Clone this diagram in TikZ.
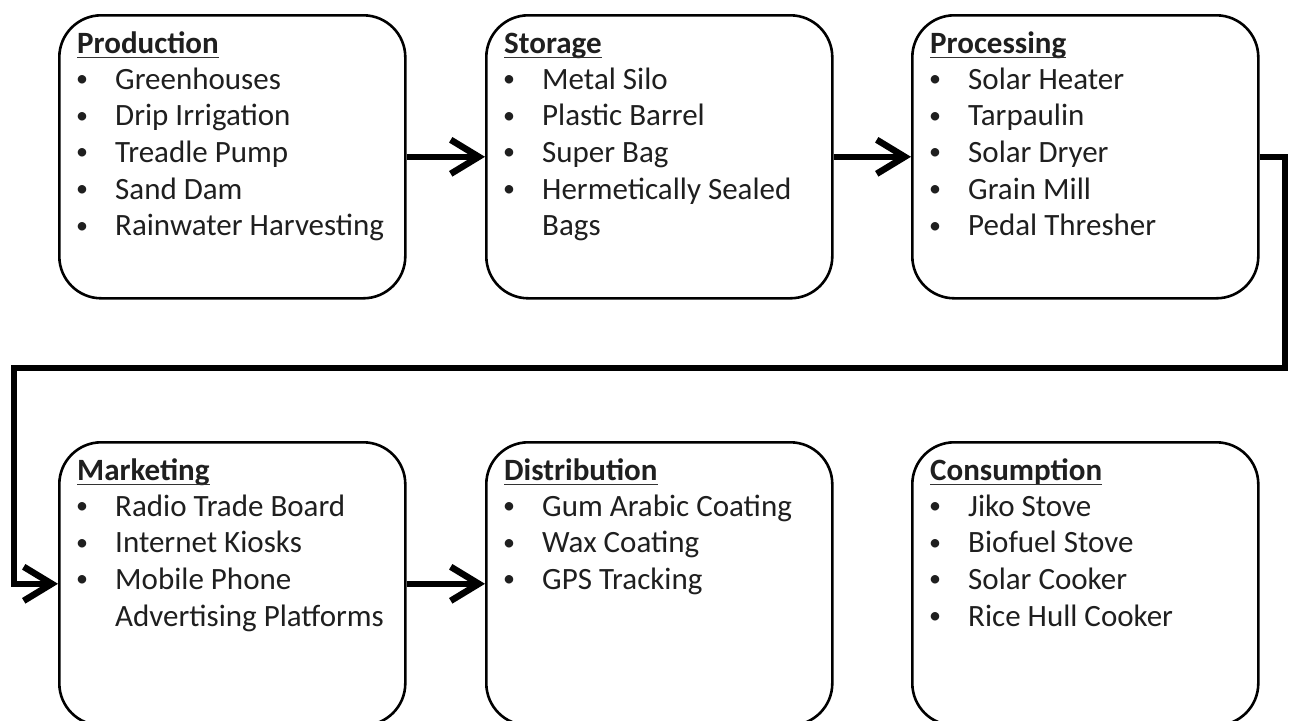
\documentclass[tikz,border=0pt]{standalone}
\usepackage{fontspec}
\setmainfont{Carlito}
\usetikzlibrary{arrows.meta}
\tikzset{
  stagebox/.style={draw=black, line width=2.6pt, rounded corners=42pt,
    minimum width=346pt, minimum height=283pt, anchor=north west, inner sep=0pt},
  ttlsty/.style={anchor=base west, inner sep=0pt, text=black!88,
    font=\fontsize{31}{36.7}\selectfont\bfseries},
  itmsty/.style={anchor=base west, inner sep=0pt, text=black!88,
    font=\fontsize{31}{36.7}\selectfont},
  bulsty/.style={anchor=base, inner sep=0pt, text=black!88,
    font=\fontsize{24}{30}\selectfont},
  uline/.style={line width=1.5pt, black!80},
  conn/.style={line width=5.5pt, -{Straight Barb[length=28pt,width=34pt,line width=6.5pt]}},
}
\newcommand\mkTitle[2]{%
  \node[ttlsty] (#1-t) at ([xshift=19pt,yshift=-39pt]#1.north west) {#2};
  \draw[uline] ([yshift=-4.5pt]#1-t.base west) -- ([yshift=-4.5pt]#1-t.base east);
}
\newcommand\mkItem[3]{%
  \node[bulsty] (#1-b#2) at ([xshift=24pt,yshift={-72.5pt-(#2-1)*36.7pt}]#1.north west) {•};
  \node[itmsty] (#1-i#2) at ([xshift=57pt,yshift={-75pt-(#2-1)*36.7pt}]#1.north west) {#3};
}
\newcommand\mkCont[3]{%
  \node[itmsty] (#1-i#2) at ([xshift=57pt,yshift={-75pt-(#2-1)*36.7pt}]#1.north west) {#3};
}
\begin{document}
\begin{tikzpicture}[x=1pt,y=-1pt]
\useasboundingbox (0,0) rectangle (1290,720);
\clip (0,0) rectangle (1290,720);
\fill[white] (0,0) rectangle (1290,720);

% boxes
\node[stagebox] (prod) at (58,14) {};
\node[stagebox] (stor) at (485,14) {};
\node[stagebox] (proc) at (911,14) {};
\node[stagebox] (mkt) at (58,441) {};
\node[stagebox] (dist) at (485,441) {};
\node[stagebox] (cons) at (911,441) {};

% texts
\mkTitle{prod}{Production}
\mkItem{prod}{1}{Greenhouses}
\mkItem{prod}{2}{Drip Irrigation}
\mkItem{prod}{3}{Treadle Pump}
\mkItem{prod}{4}{Sand Dam}
\mkItem{prod}{5}{Rainwater Harvesting}

\mkTitle{stor}{Storage}
\mkItem{stor}{1}{Metal Silo}
\mkItem{stor}{2}{Plastic Barrel}
\mkItem{stor}{3}{Super Bag}
\mkItem{stor}{4}{Hermetically Sealed}
\mkCont{stor}{5}{Bags}

\mkTitle{proc}{Processing}
\mkItem{proc}{1}{Solar Heater}
\mkItem{proc}{2}{Tarpaulin}
\mkItem{proc}{3}{Solar Dryer}
\mkItem{proc}{4}{Grain Mill}
\mkItem{proc}{5}{Pedal Thresher}

\mkTitle{mkt}{Marketing}
\mkItem{mkt}{1}{Radio Trade Board}
\mkItem{mkt}{2}{Internet Kiosks}
\mkItem{mkt}{3}{Mobile Phone}
\mkCont{mkt}{4}{Advertising Platforms}

\mkTitle{dist}{Distribution}
\mkItem{dist}{1}{Gum Arabic Coating}
\mkItem{dist}{2}{Wax Coating}
\mkItem{dist}{3}{GPS Tracking}

\mkTitle{cons}{Consumption}
\mkItem{cons}{1}{Jiko Stove}
\mkItem{cons}{2}{Biofuel Stove}
\mkItem{cons}{3}{Solar Cooker}
\mkItem{cons}{4}{Rice Hull Cooker}

% connectors
\coordinate (r1) at (1285,368);
\coordinate (l1) at (14,368);
\draw[conn] (prod) -- (stor);
\draw[conn] (stor) -- (proc);
\draw[conn] (proc.east) -| (r1) -- (l1) |- (mkt.west);
\draw[conn] (mkt) -- (dist);
\end{tikzpicture}
\end{document}
